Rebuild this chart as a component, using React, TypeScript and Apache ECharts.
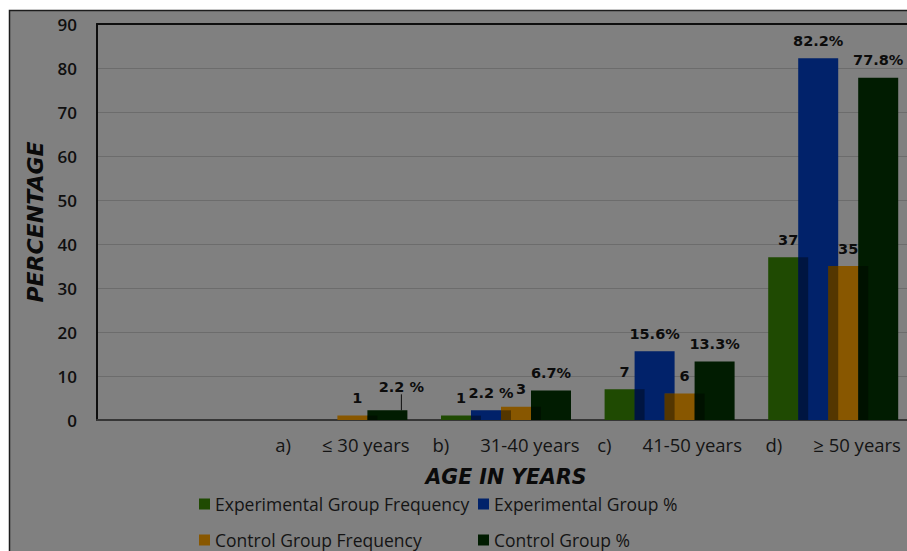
import React, { useEffect, useRef } from "react";
import * as echarts from "echarts";

// Age groups on the category axis (a leading blank slot sits before them)
const groupPrefixes = ["a)", "b)", "c)", "d)"];
const ageGroups = ["≤ 30 years", "31-40 years", "41-50 years", "≥ 50 years"];

// Series values per age group
const expFreq: (number | null)[] = [null, 1, 7, 37];
const expPct: (number | null)[] = [null, 2.2, 15.6, 82.2];
const ctrlFreq: (number | null)[] = [1, 3, 6, 35];
const ctrlPct: (number | null)[] = [2.2, 6.7, 13.3, 77.8];

// Y axis range
const yMin = 0;
const yMax = 90;
const yStep = 10;

const seriesNames = [
  "Experimental Group Frequency",
  "Experimental Group %",
  "Control Group Frequency",
  "Control Group %",
];
const seriesColors = ["#1f4a02", "#01226a", "#885700", "#011c01"];

// bar geometry (pixels)
const BAR_W = 40;
const OVERLAP = 10;
const STEP = BAR_W - OVERLAP;
const GROUP_W = BAR_W * 4 - OVERLAP * 3;

const TEXT = "#141414";

export default function App() {
  const ref = useRef<HTMLDivElement>(null);

  useEffect(() => {
    if (!ref.current) return;
    const chart = echarts.init(ref.current, undefined, { renderer: "svg" });

    const allSeries = [expFreq, expPct, ctrlFreq, ctrlPct];
    const withBlank = (arr: (number | null)[]) => [null, ...arr];

    const pctFmt = (spaced: number[]) => (p: any) =>
      p.value == null ? "" : `${p.value}${spaced.includes(p.dataIndex) ? " %" : "%"}`;
    const numFmt = (p: any) => (p.value == null ? "" : `${p.value}`);

    const labelBase = {
      show: true,
      position: "top" as const,
      distance: 10,
      color: "#0c0c0c",
      fontFamily: "DejaVu Sans",
      fontWeight: "bold" as const,
      fontSize: 14.5,
    };

    const barSeries: any[] = allSeries.map((arr, k) => {
      const isPct = k === 1 || k === 3;
      const s: any = {
        name: seriesNames[k],
        type: "bar",
        barWidth: BAR_W,
        barGap: `-${(OVERLAP / BAR_W) * 100}%`,
        itemStyle: { color: seriesColors[k] },
        data: withBlank(arr),
        label: {
          ...labelBase,
          formatter: isPct ? pctFmt(k === 1 ? [2] : [1]) : numFmt,
        },
      };
      if (k === 3) {
        s.labelLine = { show: false, lineStyle: { color: "#101010", width: 1 } };
        s.data = withBlank(arr).map((v, i) =>
          i === 1 ? { value: v, labelLine: { show: true } } : v
        );
        s.labelLayout = (p: any) => (p.dataIndex === 1 ? { dx: 14, dy: -6 } : {});
      }
      return s;
    });

    // darker strip where each bar overlaps the previous one
    const shadeSeries: any[] = [1, 2, 3].map((k) => ({
      type: "custom",
      z: 3,
      silent: true,
      data: allSeries[k]
        .map((v, i) => {
          const prev = allSeries[k - 1][i];
          if (v == null || prev == null) return null;
          return [i + 1, Math.min(v, prev)];
        })
        .filter((d) => d != null),
      renderItem: (_params: any, api: any) => {
        const i = api.value(0);
        const h = api.value(1);
        const base = api.coord([i, 0]);
        const top = api.coord([i, h]);
        const left = base[0] - GROUP_W / 2 + k * STEP;
        return {
          type: "rect",
          shape: { x: left, y: top[1], width: OVERLAP, height: base[1] - top[1] },
          style: { fill: "rgba(0,0,0,0.38)" },
        };
      },
    }));

    const legendCommon = {
      orient: "vertical" as const,
      icon: "rect",
      itemWidth: 11,
      itemHeight: 11,
      itemGap: 18,
      padding: 0,
      top: 495,
      textStyle: {
        fontFamily: "Open Sans",
        fontSize: 17.5,
        lineHeight: 18,
        color: TEXT,
      },
    };

    chart.setOption({
      animation: false,
      backgroundColor: "#ffffff",
      graphic: [
        {
          type: "rect",
          shape: { x: 9.5, y: 10.5, width: 930, height: 560 },
          style: { fill: "#808080", stroke: "#1c1c1c", lineWidth: 1.5 },
          z: -10,
          silent: true,
        },
      ],
      // plot area runs past the right edge of the visible page
      grid: { left: 97, top: 24, width: 818, height: 396 },
      legend: [
        { ...legendCommon, left: 199, data: [seriesNames[0], seriesNames[2]] },
        { ...legendCommon, left: 478, data: [seriesNames[1], seriesNames[3]] },
      ],
      xAxis: [
        {
          type: "category",
          data: ["", ...ageGroups],
          axisTick: { show: false },
          axisLine: { lineStyle: { color: "#363636", width: 2 } },
          axisLabel: {
            margin: 15,
            interval: 0,
            color: TEXT,
            fontFamily: "Open Sans",
            fontSize: 18.5,
            formatter: (_v: string, idx: number) =>
              idx === 0 ? "" : `{p|${groupPrefixes[idx - 1]}}{g|${ageGroups[idx - 1]}}`,
            rich: {
              p: {
                padding: [0, 31, 0, 0],
                fontFamily: "Open Sans",
                fontSize: 18.5,
                color: TEXT,
              },
              g: { fontFamily: "Open Sans", fontSize: 18.5, color: TEXT },
            },
          },
          name: "AGE IN YEARS",
          nameLocation: "middle",
          nameGap: 47,
          nameTextStyle: {
            fontFamily: "DejaVu Sans",
            fontWeight: "bold",
            fontStyle: "italic",
            fontSize: 20.5,
            color: "#0a0a0a",
          },
        },
        {
          type: "category",
          position: "top",
          data: ["", ...ageGroups],
          axisTick: { show: false },
          axisLabel: { show: false },
          axisLine: { lineStyle: { color: "#0e0e0e", width: 2 } },
        },
      ],
      yAxis: {
        type: "value",
        min: yMin,
        max: yMax,
        interval: yStep,
        axisLine: { show: true, lineStyle: { color: "#0e0e0e", width: 2 } },
        axisTick: { show: false },
        splitLine: { lineStyle: { color: "#6c6c6c", width: 1 } },
        axisLabel: {
          margin: 20,
          color: "#0f0f0f",
          fontFamily: "Open Sans",
          fontWeight: 600,
          fontSize: 17,
        },
        name: "PERCENTAGE",
        nameLocation: "middle",
        nameGap: 50,
        nameTextStyle: {
          fontFamily: "DejaVu Sans",
          fontWeight: "bold",
          fontStyle: "italic",
          fontSize: 22,
          color: "#0a0a0a",
        },
      },
      series: [...barSeries, ...shadeSeries],
    });

    return () => chart.dispose();
  }, []);

  // the chart box is wider than the 907px page; its right part falls off-screen
  return (
    <div
      ref={ref}
      style={{ position: "fixed", left: 0, top: 0, width: 925, height: 551 }}
    />
  );
}
